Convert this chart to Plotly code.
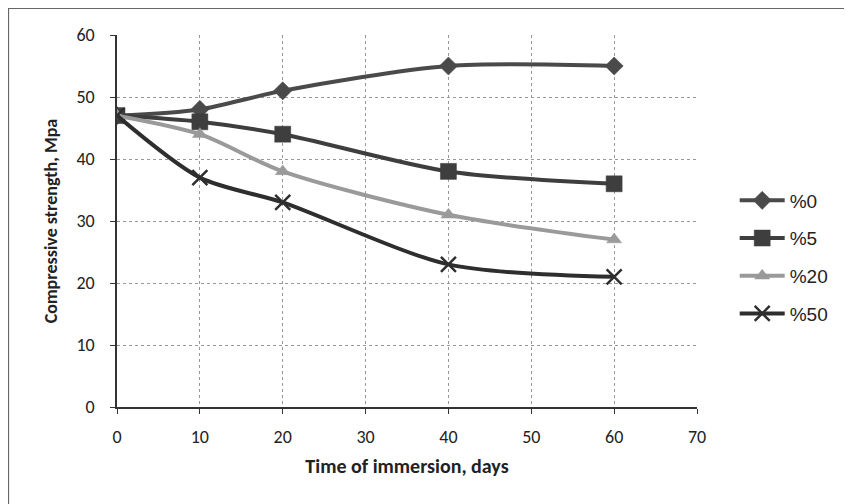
import plotly.graph_objects as go

days = [0, 10, 20, 40, 60]
s0 = [47, 48, 51, 55, 55]
s5 = [47, 46, 44, 38, 36]
s20 = [47, 44, 38, 31, 27]
s50 = [47, 37, 33, 23, 21]
names = ["%0", "%5", "%20", "%50"]
x_ticks = [0, 10, 20, 30, 40, 50, 60, 70]
y_ticks = [0, 10, 20, 30, 40, 50, 60]

series = [s0, s5, s20, s50]
colors = ["#4a4a4a", "#3e3e3e", "#9a9a9a", "#2e2e2e"]
symbols = ["diamond", "square", "triangle-up", "x-thin"]
sizes = [14, 16, 13, 15]

fig = go.Figure()
for vals, nm, c, sym, sz in zip(series, names, colors, symbols, sizes):
    fig.add_trace(go.Scatter(
        x=days, y=vals, name=nm, legendgroup=nm, mode="lines+markers",
        line=dict(color=c, width=4, shape="spline", smoothing=0.8),
        marker=dict(symbol=sym, size=sz, color=c,
                    line=dict(color=c, width=2.5 if sym == "x-thin" else 0.5)),
    ))

L, T, PW, PH = 109, 27, 580, 372
W, H = 852, 504

axis_common = dict(showgrid=True, gridcolor="#999", griddash="dot", gridwidth=1,
                   showline=True, linecolor="#333", linewidth=1.5,
                   ticks="outside", ticklen=5, tickcolor="#333", zeroline=False,
                   automargin=False, tickfont=dict(size=18))

fig.update_layout(
    width=W, height=H,
    margin=dict(l=L, r=W - L - PW, t=T, b=H - T - PH),
    paper_bgcolor="white", plot_bgcolor="white",
    font=dict(family="Carlito, Lato, sans-serif", color="#222", size=15),
    showlegend=True,
    legend=dict(x=1.065, y=1 - (249 - T) / PH, xanchor="left", yanchor="middle",
                font=dict(family="Liberation Sans, Arial, sans-serif", size=19, color="#222"),
                tracegroupgap=10, itemwidth=45),
    xaxis=dict(range=[0, 70], tickvals=x_ticks, ticklabelstandoff=8,
               title=dict(text="<b>Time of immersion, days</b>", font=dict(size=20), standoff=12),
               **axis_common),
    yaxis=dict(range=[0, 60], tickvals=y_ticks, ticklabelstandoff=12,
               title=dict(text="<b>Compressive strength, Mpa</b>", font=dict(size=18), standoff=14),
               **axis_common),
)

fig.add_shape(type="rect", xref="paper", yref="paper",
              x0=-(L - 0.5) / PW, x1=(840 - L) / PW,
              y0=-150 / PH, y1=1 + (T - 0.5) / PH,
              line=dict(color="#666", width=1.2), fillcolor="rgba(0,0,0,0)", layer="below")

fig.write_html("out.html")
